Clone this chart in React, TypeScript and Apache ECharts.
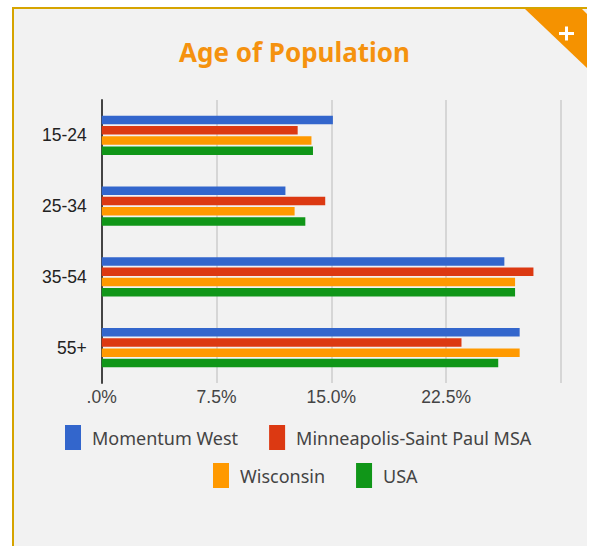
import React, { useEffect, useRef } from "react";
import * as echarts from "echarts";

const categories = ["15-24", "25-34", "35-54", "55+"];
const seriesNames = ["Momentum West", "Minneapolis-Saint Paul MSA", "Wisconsin", "USA"];
const momentumWest = [15.1, 12.0, 26.3, 27.3];
const minneapolis = [12.8, 14.6, 28.2, 23.5];
const wisconsin = [13.7, 12.6, 27.0, 27.3];
const usa = [13.8, 13.3, 27.0, 25.9];
const seriesColors = ["#3366cc", "#dc3912", "#ff9900", "#109618"];
const xTicks = [0, 7.5, 15, 22.5, 30];

export default function App() {
  const ref = useRef<HTMLDivElement>(null);
  useEffect(() => {
    if (!ref.current) return;
    const chart = echarts.init(ref.current, undefined, { renderer: "svg" });
    const values = [momentumWest, minneapolis, wisconsin, usa];
    const legendText = {
      color: "#444",
      fontSize: 18,
      fontFamily: "Noto Sans",
      padding: [0, 0, 0, 6],
    };
    chart.setOption({
      animation: false,
      backgroundColor: "transparent",
      title: {
        text: "Age of Population",
        left: "center",
        top: 39,
        padding: 0,
        textStyle: {
          color: "#f5920f",
          fontSize: 26,
          fontWeight: "bold",
          fontFamily: "Noto Sans",
        },
      },
      legend: [
        {
          data: [seriesNames[0], seriesNames[1]],
          left: 65,
          top: 425,
          padding: 0,
          itemWidth: 16,
          itemHeight: 25,
          itemGap: 31,
          icon: "rect",
          textStyle: legendText,
        },
        {
          data: [seriesNames[2], seriesNames[3]],
          left: 213,
          top: 463,
          padding: 0,
          itemWidth: 16,
          itemHeight: 25,
          itemGap: 31,
          icon: "rect",
          textStyle: legendText,
        },
      ],
      grid: { left: 101.7, right: 28, top: 100, bottom: 163, containLabel: false },
      xAxis: {
        type: "value",
        min: xTicks[0],
        max: xTicks[xTicks.length - 1],
        interval: 7.5,
        axisLine: { show: false },
        axisTick: { show: false },
        splitLine: { show: true, lineStyle: { color: "#d6d6d6", width: 2 } },
        axisLabel: {
          margin: 5,
          color: "#444",
          fontSize: 17.5,
          fontFamily: "Liberation Sans",
          formatter: (v: number) => {
            if (v === 0) return ".0%";
            if (v >= 30) return "";
            return v.toFixed(1) + "%";
          },
        },
      },
      yAxis: {
        type: "category",
        data: categories,
        inverse: true,
        axisLine: { show: true, lineStyle: { color: "#444", width: 2 } },
        axisTick: { show: false },
        axisLabel: {
          margin: 15,
          color: "#222",
          fontSize: 17.5,
          fontFamily: "Liberation Sans",
        },
      },
      graphic: [
        {
          type: "polygon",
          shape: { points: [[525, 9], [582, 9], [587, 14], [587, 68]] },
          style: { fill: "#f59200" },
        },
        { type: "rect", shape: { x: 559, y: 32, width: 15, height: 3 }, style: { fill: "#fff" } },
        { type: "rect", shape: { x: 565, y: 26.5, width: 3, height: 14 }, style: { fill: "#fff" } },
      ],
      series: seriesNames.map((name, i) => ({
        name,
        type: "bar",
        data: values[i],
        barWidth: 8.6,
        barGap: "19%",
        itemStyle: { color: seriesColors[i] },
      })),
    });
    return () => chart.dispose();
  }, []);
  return (
    <div style={{ position: "absolute", left: 0, top: 0, width: 589, height: 546, background: "#fff", overflow: "hidden" }}>
      <div
        style={{
          position: "absolute",
          left: 12,
          top: 7,
          width: 575,
          height: 545,
          background: "#f2f2f2",
          borderTop: "2px solid #d6a400",
          borderLeft: "2px solid #d6a400",
          boxSizing: "border-box",
        }}
      />
      <div ref={ref} style={{ position: "absolute", left: 0, top: 0, width: 589, height: 546 }} />
    </div>
  );
}
